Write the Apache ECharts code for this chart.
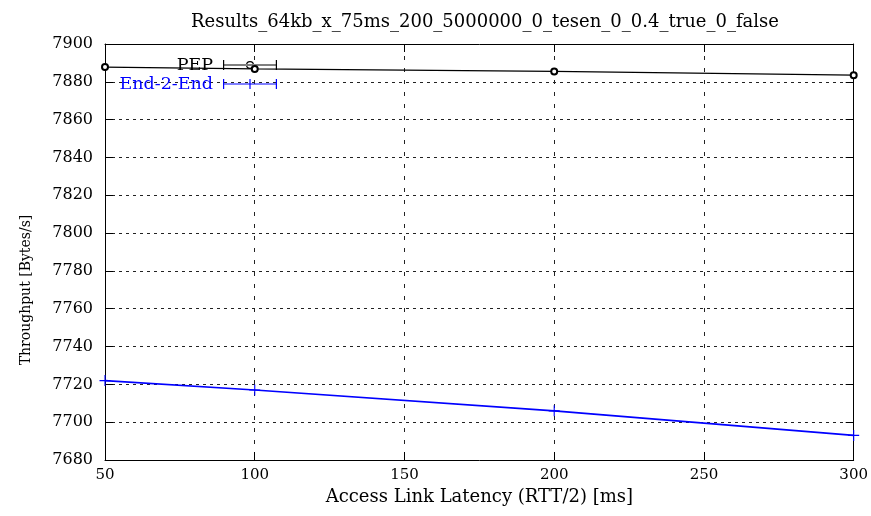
<!DOCTYPE html>
<html>
<head>
<meta charset="utf-8">
<script src="https://cdn.jsdelivr.net/npm/echarts@6/dist/echarts.min.js"></script>
<style>
html,body{margin:0;padding:0;background:#fff;}
#c{width:871px;height:516px;}
</style>
</head>
<body>
<div id="c"></div>
<script>
var titleText = 'Results_64kb_x_75ms_200_5000000_0_tesen_0_0.4_true_0_false';
var xAxisTitle = 'Access Link Latency (RTT/2) [ms]';
var yAxisTitle = 'Throughput [Bytes/s]';
var xValues = [50, 100, 200, 300];
var pepValues = [7887.8, 7886.8, 7885.5, 7883.5];
var e2eValues = [7722, 7717, 7706, 7693];
var seriesNames = ['PEP', 'End-2-End'];

var FONT = 'DejaVu Serif';
var pepIcon = 'path://M0,5.5h54v1H0z M0,1h1.2v10H0z M52.8,1h1.2v10H52.8z M23,6a4,4 0 1,0 8,0a4,4 0 1,0 -8,0z M24.2,6a2.8,2.8 0 1,1 5.6,0a2.8,2.8 0 1,1 -5.6,0z';
var e2eIcon = 'path://M0,5.5h54v1H0z M0,1h1.2v10H0z M52.8,1h1.2v10H52.8z M26.4,1h1.2v10h-1.2z';
var plusSymbol = 'path://M4.5,0h1v10h-1z M0,4.5h10v1H0z';

function pairs(ys){ return xValues.map(function(x,i){ return [x, ys[i]]; }); }

var chart = echarts.init(document.getElementById('c'));
chart.setOption({
  backgroundColor: '#fff',
  animation: false,
  title: {
    text: titleText,
    left: 480, top: 8, textAlign: 'center',
    textStyle: {fontFamily: FONT, fontSize: 18, fontWeight: 'normal', color: '#000'}
  },
  graphic: [{
    type: 'text', x: 26, y: 290, rotation: Math.PI / 2,
    style: {text: yAxisTitle, fontFamily: FONT, fontSize: 14, fill: '#000', align: 'center', verticalAlign: 'middle'}
  }],
  legend: [
    {
      data: [{name: seriesNames[0], icon: pepIcon}],
      right: 594, top: 56, padding: 0, align: 'right',
      itemWidth: 54, itemHeight: 10, itemGap: 0,
      selectedMode: false,
      itemStyle: {color: '#000', borderWidth: 0},
      textStyle: {fontFamily: FONT, fontSize: 17.5, color: '#000', padding: [0, 5, 0, 0]}
    },
    {
      data: [{name: seriesNames[1], icon: e2eIcon}],
      right: 594, top: 75, padding: 0, align: 'right',
      itemWidth: 54, itemHeight: 10, itemGap: 0,
      selectedMode: false,
      itemStyle: {color: '#0000ff', borderWidth: 0},
      textStyle: {fontFamily: FONT, fontSize: 17.5, color: '#0000ff', padding: [0, 5, 0, 0]}
    }
  ],
  grid: {left: 105, right: 17, top: 44, bottom: 56, containLabel: false},
  xAxis: [
    {
      type: 'value', min: 50, max: 300, interval: 50,
      name: xAxisTitle,
      nameLocation: 'middle', nameGap: 24,
      nameTextStyle: {fontFamily: FONT, fontSize: 18, color: '#000', verticalAlign: 'top'},
      axisLine: {show: true, lineStyle: {color: '#000', width: 1}},
      axisTick: {show: true, inside: true, length: 8, lineStyle: {color: '#000'}},
      axisLabel: {fontFamily: FONT, fontSize: 15, color: '#000', margin: 8},
      splitLine: {show: true, lineStyle: {color: '#222', type: [4, 8], width: 1}}
    },
    {
      type: 'value', min: 50, max: 300, interval: 50, position: 'top',
      axisLine: {show: true, onZero: false, lineStyle: {color: '#000', width: 1}},
      axisTick: {show: true, inside: true, length: 8, lineStyle: {color: '#000'}},
      axisLabel: {show: false}, splitLine: {show: false}
    }
  ],
  yAxis: [
    {
      type: 'value', min: 7680, max: 7900, interval: 20,
      axisLine: {show: true, lineStyle: {color: '#000', width: 1}},
      axisTick: {show: true, inside: true, length: 8, lineStyle: {color: '#000'}},
      axisLabel: {fontFamily: FONT, fontSize: 16, color: '#000', margin: 12,
        formatter: function(v){ return String(v); }},
      splitLine: {show: true, lineStyle: {color: '#222', type: [3, 4], width: 1}}
    },
    {
      type: 'value', min: 7680, max: 7900, interval: 20, position: 'right',
      axisLine: {show: true, onZero: false, lineStyle: {color: '#000', width: 1}},
      axisTick: {show: true, inside: true, length: 8, lineStyle: {color: '#000'}},
      axisLabel: {show: false}, splitLine: {show: false}
    }
  ],
  series: [
    {
      name: seriesNames[0], type: 'line', xAxisIndex: 0, yAxisIndex: 0,
      data: pairs(pepValues),
      symbol: 'emptyCircle', symbolSize: 6,
      itemStyle: {color: '#000', borderWidth: 1},
      lineStyle: {color: '#000', width: 1.2},
      z: 3
    },
    {
      name: seriesNames[1], type: 'line', xAxisIndex: 0, yAxisIndex: 0,
      data: pairs(e2eValues),
      symbol: plusSymbol, symbolSize: 11,
      itemStyle: {color: '#0000ff'},
      lineStyle: {color: '#0000ff', width: 1.6},
      z: 3
    }
  ]
});
</script>
</body>
</html>
